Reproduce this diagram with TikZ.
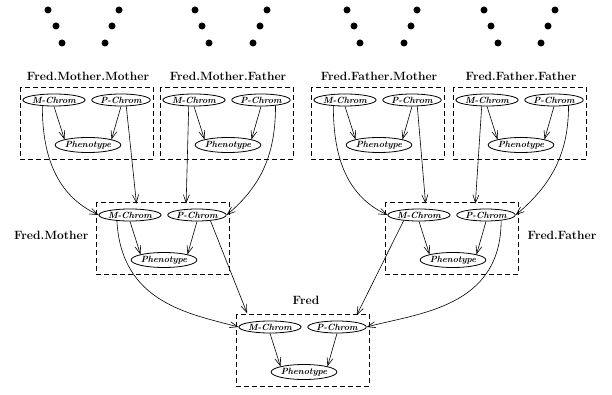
\documentclass[tikz,border=0pt]{standalone}
\usetikzlibrary{shapes.geometric,arrows.meta}
\newcommand\famnodes[3]{%
\node[chrom] (#1M) at (#2-34,-#3) {M-Chrom};
\node[chrom,minimum width=50pt] (#1P) at (#2+33,-#3) {P-Chrom};
\node[pheno] (#1Ph) at (#2,-#3-45) {Phenotype};
\draw[fambox] (#2-68,-#3+13) rectangle (#2+65,-#3-59);
\draw[->] (#1M.south) -- (#1Ph.north west);
\draw[->] (#1P.south) -- (#1Ph.north east);
}
\begin{document}
\begin{tikzpicture}[x=1pt,y=1pt,>={Straight Barb[length=8pt,width=6pt]},line width=0.6pt,
  chrom/.style={draw,ellipse,line width=0.8pt,inner sep=0pt,minimum width=55pt,minimum height=12pt,font=\fontsize{9}{10}\selectfont\bfseries\itshape},
  pheno/.style={draw,ellipse,line width=0.8pt,inner sep=0pt,minimum width=62pt,minimum height=15pt,font=\fontsize{9}{10}\selectfont\bfseries\itshape},
  fambox/.style={draw,line width=0.9pt,dash pattern=on 5pt off 3pt},
  famlabel/.style={font=\fontsize{12}{14}\selectfont\bfseries}]
\useasboundingbox (0,0) rectangle (612,-395);
\foreach \x/\y in {48/10,56/26,62/43,119/10,112/26,105/43,195/10,202/26,209/43,267/10,260/26,253/43,
  347/10,354/26,360/43,417/10,411/26,404/43,484/10,491/26,498/43,555/10,548/26,541/43}
  \fill (\x,-\y) circle (3.5);
\famnodes{mm}{88}{100}
\famnodes{mf}{228}{100}
\famnodes{fm}{379}{100}
\famnodes{ff}{521}{100}
\famnodes{mo}{164}{215}
\famnodes{fa}{453}{215}
\famnodes{fred}{304}{327}
\node[famlabel,anchor=base] (mmL) at (88,-81) {Fred.Mother.Mother};
\node[famlabel,anchor=base] (mfL) at (228,-81) {Fred.Mother.Father};
\node[famlabel,anchor=base] (fmL) at (379,-81) {Fred.Father.Mother};
\node[famlabel,anchor=base] (ffL) at (521,-81) {Fred.Father.Father};
\node[famlabel,anchor=base east] (moL) at (92,-239.5) {Fred.Mother};
\node[famlabel,anchor=base west] (faL) at (524,-239.5) {Fred.Father};
\node[famlabel,anchor=base] (fredL) at (306,-304) {Fred};
\draw[->] (mmM.207) to[out=-90,in=155] (moM.west);
\draw[->,shorten >=5pt] (mmP.-50) -- ([xshift=7pt]moM.north);
\draw[->,shorten >=5pt] (mfM.-130) -- ([xshift=-11pt]moP.north);
\draw[->] (mfP.-21) to[out=-90,in=40] (moP.east);
\draw[->] (fmM.207) to[out=-90,in=155] (faM.west);
\draw[->,shorten >=5pt] (fmP.-50) -- ([xshift=7pt]faM.north);
\draw[->,shorten >=5pt] (ffM.-130) -- ([xshift=-11pt]faP.north);
\draw[->] (ffP.-21) to[out=-90,in=40] (faP.east);
\draw[->] (moM.204) to[out=-87,in=165,out looseness=1.3,in looseness=0.8] (fredM.west);
\draw[->,shorten >=8pt] (moP.-23) -- ([xshift=-20pt]fredM.north);
\draw[->,shorten >=6pt] (faM.200) -- ([xshift=17pt]fredP.north);
\draw[->] (faP.-20) to[out=-90,in=15,out looseness=1.3,in looseness=0.8] (fredP.east);
\end{tikzpicture}
\end{document}
